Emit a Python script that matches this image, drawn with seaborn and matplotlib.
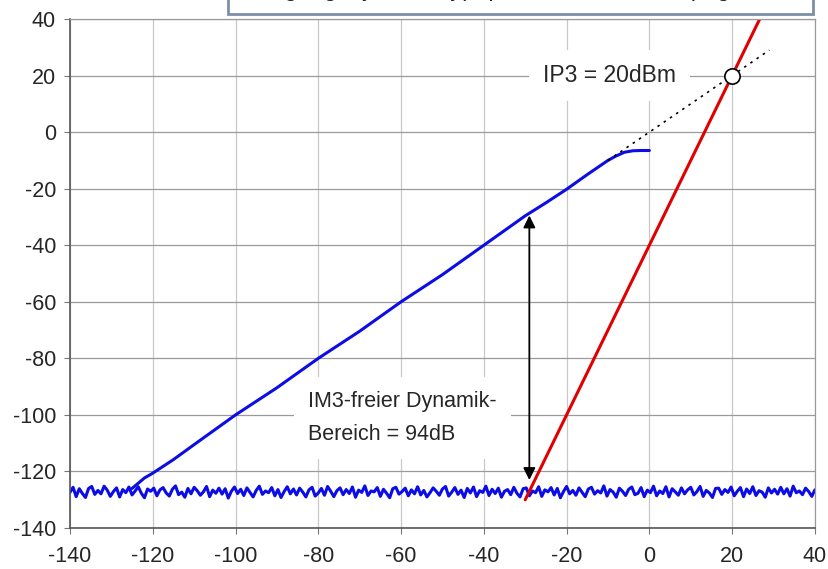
import numpy as np
import matplotlib.pyplot as plt
import seaborn as sns
from matplotlib.patches import Rectangle

sns.set_style("white")
plt.rcParams['font.family'] = ['Liberation Sans', 'DejaVu Sans']
plt.rcParams['axes.unicode_minus'] = False

# ----------------------------
# data
# ----------------------------
# wanted signal (blue), x = input level, y = output level
sig_x = [-125, -122, -120, -115, -110, -100, -90, -80, -70, -60, -50, -40,
         -30, -25, -20, -15, -12, -10, -8, -6, -4, -2, 0]
sig_y = [-126, -122.3, -120.6, -115.8, -110.5, -100, -90.4, -80, -70.4, -60,
         -50.4, -40, -29.6, -25, -20.2, -15, -12, -10, -8.4, -7.1, -6.6, -6.5, -6.5]

# third order product (red)
im3_x = [-30, -25, -20, -10, 0, 10, 20, 30]
im3_y = [-130, -115, -100, -70, -40, -10, 20, 50]

# extrapolated signal line (dotted)
ext_x = [-10, 0, 20, 29]
ext_y = [-10, 0, 20, 29]

# noise floor (blue), evenly spaced from -140 to 40
noise = [
    -127.4, -125.6, -128.9, -126.1, -127.8, -129.2, -126.0, -125.3, -128.1, -126.7,
    -127.9, -125.2, -126.6, -128.8, -127.1, -125.8, -129.0, -126.4, -127.5, -125.5,
    -128.3, -126.9, -125.4, -127.7, -129.3, -126.2, -127.0, -125.9, -128.6, -126.5,
    -125.7, -127.6, -128.7, -126.3, -125.1, -128.2, -127.3, -129.1, -126.0, -127.9,
    -125.6, -126.8, -128.4, -127.2, -125.3, -128.9, -126.6, -127.7, -125.9, -128.0,
    -126.1, -129.4, -127.0, -125.5, -127.8, -126.3, -128.5, -125.8, -127.4, -129.0,
    -126.7, -125.2, -128.1, -126.9, -127.5, -125.7, -128.6, -126.4, -129.2, -127.1,
    -125.4, -127.9, -126.2, -128.3, -125.9, -127.3, -129.0, -126.5, -125.6, -128.7,
    -127.6, -126.0, -128.4, -125.3, -127.0, -128.9, -126.8, -125.8, -128.2, -126.4,
    -127.8, -125.5, -129.1, -126.6, -127.4, -125.1, -128.5, -126.9, -127.2, -125.7,
    -128.8, -126.3, -127.7, -129.3, -126.1, -125.6, -128.0, -127.1, -125.9, -128.6,
    -126.5, -127.9, -125.4, -128.3, -126.7, -129.0, -127.5, -125.8, -127.0, -128.4,
    -126.2, -125.3, -128.7, -127.3, -125.7, -128.1, -126.6, -129.2, -126.0, -127.6,
    -125.5, -128.9, -126.8, -127.4, -125.2, -128.5, -126.3, -127.8, -125.9, -129.1,
    -127.0, -126.4, -128.2, -125.6, -127.7, -129.0, -126.1, -125.8, -128.6, -126.9,
    -127.5, -125.4, -128.8, -126.5, -127.2, -125.7, -128.3, -126.0, -129.3, -127.1,
    -125.3, -127.9, -126.7, -128.4, -125.8, -127.4, -128.9, -126.2, -125.6, -128.0,
    -126.8, -127.6, -125.1, -128.7, -126.4, -127.3, -129.1, -125.9, -127.0, -128.5,
    -126.3, -125.5, -128.2, -127.7, -125.7, -128.9, -126.6, -127.5, -125.2, -128.6,
    -126.9, -127.8, -125.4, -129.0, -126.1, -127.2, -128.4, -125.8, -127.9, -126.5,
    -125.6, -128.3, -127.1, -125.3, -128.8, -126.7, -127.6, -129.2, -126.0, -125.9,
    -128.1, -126.4, -127.4, -125.5, -128.6, -127.0, -125.7, -128.9, -126.2, -127.8,
    -125.4, -128.5, -126.8, -127.3, -129.1, -125.8, -127.6, -126.3, -128.0, -125.6,
    -127.9, -126.1, -128.7, -125.2, -127.5, -126.9, -128.2, -125.9, -127.1, -128.8,
    -126.5,
]
noise_x = np.linspace(-140, 40, len(noise))

ip3 = (20, 20)
dyn_top, dyn_bottom, dyn_x = -28.5, -124, -29

ticks = list(range(-140, 41, 20))

# ----------------------------
# plot
# ----------------------------
fig = plt.figure(figsize=(8.29, 5.69), dpi=100)
ax = fig.add_axes([0.0844, 0.072, 0.8986, 0.8946])

blue = "#0c0ce6"
red = "#e00000"

sns.lineplot(x=noise_x, y=noise, ax=ax, color=blue, lw=2.2, estimator=None)
sns.lineplot(x=sig_x, y=sig_y, ax=ax, color=blue, lw=2.2, estimator=None)
sns.lineplot(x=ext_x, y=ext_y, ax=ax, color="black", lw=1.2, ls=(0, (1.5, 3)),
             estimator=None)
sns.lineplot(x=im3_x, y=im3_y, ax=ax, color=red, lw=2.2, estimator=None)
ax.plot(*ip3, marker="o", ms=11, mfc="white", mec="black", mew=1.2, zorder=5)

ax.annotate("", xy=(dyn_x, dyn_top), xytext=(dyn_x, dyn_bottom),
            arrowprops=dict(arrowstyle="<|-|>", color="black", lw=1.3,
                            mutation_scale=18))

ax.text(-82.5, -101.2, "IM3-freier Dynamik-\nBereich = 94dB", fontsize=15.5,
        va="center", linespacing=1.75, zorder=1,
        bbox=dict(facecolor="white", edgecolor="none", pad=10))
ax.text(-25.8, 20, "IP3 = 20dBm", fontsize=16.5, va="center", zorder=1,
        bbox=dict(facecolor="white", edgecolor="none", pad=10))

ax.set_xlim(-140, 40)
ax.set_ylim(-140, 40)
ax.set_xticks(ticks)
ax.set_yticks(ticks)
ax.tick_params(labelsize=15.5, length=4, color="#777777", direction="out",
               left=True, bottom=True)
ax.tick_params(axis="x", pad=9)
ax.tick_params(axis="y", pad=6)
ax.grid(axis="x", color="#c8c8c8", lw=0.9)
ax.grid(axis="y", color="#9a9a9a", lw=0.9)
for side in ["left", "bottom"]:
    ax.spines[side].set_color("#555555")
    ax.spines[side].set_linewidth(1.2)
for side in ["top", "right"]:
    ax.spines[side].set_color("#9a9a9a")
    ax.spines[side].set_linewidth(0.9)

# caption box cut off by the top edge of the picture
fig.patches.append(Rectangle((228 / 829, 1 - 14 / 569), (813 - 228) / 829, 0.1,
                             transform=fig.transFigure, facecolor="white",
                             edgecolor="#7d8fa6", lw=2, zorder=10))
fig.text(250 / 829, 1 + 4 / 569, "Eingangsdynamik typ. pro Kanal bei Messpegel",
         fontsize=17, va="baseline", color="#222222", zorder=11)

plt.savefig("out.png", dpi=100)
plt.close()
